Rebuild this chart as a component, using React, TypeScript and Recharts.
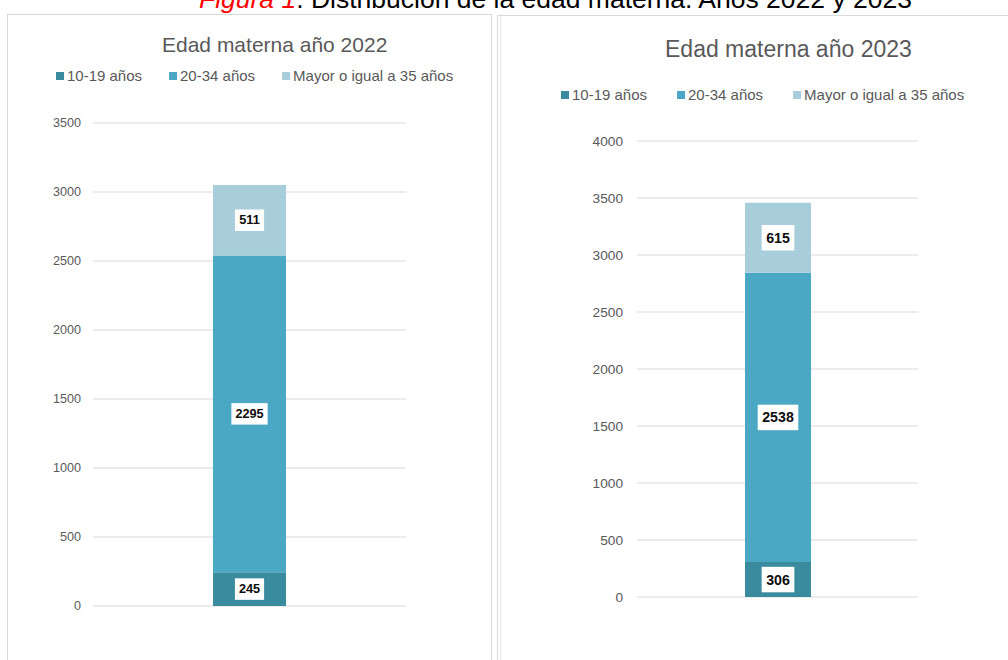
import React from 'react';
import { BarChart, Bar, XAxis, YAxis, CartesianGrid, LabelList } from 'recharts';

const seriesNames = ['10-19 años', '20-34 años', 'Mayor o igual a 35 años'];
const seriesKeys = ['a', 'b', 'c'];
const seriesColors = ['#3B8B9E', '#4BA8C4', '#A8CDDB'];
const values2022 = [245, 2295, 511];
const values2023 = [306, 2538, 615];
const ticks2022 = [0, 500, 1000, 1500, 2000, 2500, 3000, 3500];
const ticks2023 = [0, 500, 1000, 1500, 2000, 2500, 3000, 3500, 4000];
const title2022 = 'Edad materna año 2022';
const title2023 = 'Edad materna año 2023';
const captionRed = 'Figura 1';
const captionBlack = '. Distribución de la edad materna. Años 2022 y 2023';

const FONT = '"Liberation Sans", Arial, sans-serif';
const GRAY = '#595959';

function buildRow(year: string, vals: number[]) {
  const row: any = { name: year };
  seriesKeys.forEach((k, i) => { row[k] = vals[i]; });
  return row;
}

const data2022 = [buildRow('2022', values2022)];
const data2023 = [buildRow('2023', values2023)];

function makeLabel(fs: number, boxH: number, pad: number) {
  return (props: any) => {
    const vb = props.viewBox || {};
    const x = props.x ?? vb.x;
    const y = props.y ?? vb.y;
    const width = props.width ?? vb.width;
    const height = props.height ?? vb.height;
    const value = props.value;
    const cx = x + width / 2;
    const cy = y + height / 2;
    const tw = String(value).length * 0.556 * fs;
    const bw = tw + pad * 2;
    return (
      <g>
        <rect x={cx - bw / 2} y={cy - boxH / 2} width={bw} height={boxH} fill="#ffffff" />
        <text x={cx} y={cy} textAnchor="middle" dominantBaseline="central" fontFamily={FONT} fontWeight="bold" fontSize={fs} fill="#0d0d0d">
          {value}
        </text>
      </g>
    );
  };
}

function Legend({ x, y, fs, sq, gapText, gapItem, widthsEm }: any) {
  let cur = x;
  const items = seriesNames.map((n, i) => {
    const sx = cur;
    const tw = widthsEm[i] * fs;
    cur = sx + sq + gapText + tw + gapItem;
    return (
      <g key={n}>
        <rect x={sx} y={y - sq / 2} width={sq} height={sq} fill={seriesColors[i]} />
        <text x={sx + sq + gapText} y={y + fs * 0.358} fontFamily={FONT} fontSize={fs} fill={GRAY}>{n}</text>
      </g>
    );
  });
  return <g>{items}</g>;
}

const legendEm = [5.003, 5.003, 10.672];

export default function App() {
  return (
    <div style={{ position: 'absolute', left: 0, top: 0, width: 1008, height: 660, overflow: 'hidden', background: '#ffffff' }}>
      <div style={{ position: 'absolute', left: 7, top: 14, width: 485, height: 700, boxSizing: 'border-box', border: '1px solid #d9d9d9' }} />
      <div style={{ position: 'absolute', left: 497, top: 15, width: 600, height: 700, boxSizing: 'border-box', border: '1px solid #d9d9d9' }} />
      <div style={{ position: 'absolute', left: 500, top: 16, width: 1, height: 700, background: '#e6e6e6' }} />

      <div style={{ position: 'absolute', left: 0, top: 0 }}>
        <BarChart width={495} height={660} data={data2022} margin={{ top: 123, right: 89, bottom: 54, left: 33 }}>
          <CartesianGrid vertical={false} stroke="#d9d9d9" />
          <XAxis dataKey="name" hide />
          <YAxis width={60} domain={[0, 3500]} ticks={ticks2022} axisLine={false} tickLine={false} tickMargin={6}
            tick={{ fontSize: 12.6, fill: GRAY, fontFamily: FONT }} />
          {seriesKeys.map((k, i) => (
            <Bar key={k} dataKey={k} stackId="s" fill={seriesColors[i]} barSize={73} isAnimationActive={false}>
              <LabelList dataKey={k} content={makeLabel(12.7, 21.5, 4)} />
            </Bar>
          ))}
        </BarChart>
      </div>

      <div style={{ position: 'absolute', left: 495, top: 0 }}>
        <BarChart width={513} height={660} data={data2023} margin={{ top: 141, right: 90, bottom: 63, left: 82 }}>
          <CartesianGrid vertical={false} stroke="#d9d9d9" />
          <XAxis dataKey="name" hide />
          <YAxis width={60} domain={[0, 4000]} ticks={ticks2023} axisLine={false} tickLine={false} tickMargin={8}
            tick={{ fontSize: 13.7, fill: GRAY, fontFamily: FONT }} />
          {seriesKeys.map((k, i) => (
            <Bar key={k} dataKey={k} stackId="s" fill={seriesColors[i]} barSize={66} isAnimationActive={false}>
              <LabelList dataKey={k} content={makeLabel(14.2, 25.5, 4.5)} />
            </Bar>
          ))}
        </BarChart>
      </div>

      <svg width={1008} height={660} style={{ position: 'absolute', left: 0, top: 0, pointerEvents: 'none' }}>
        <text x={912} y={8} textAnchor="end" fontFamily={FONT} fontSize={26.5}>
          <tspan fill="#ff0000" fontStyle="italic">{captionRed}</tspan>
          <tspan fill="#000000">{captionBlack}</tspan>
        </text>
        <text x={162} y={51.7} fontFamily={FONT} fontSize={21} fill={GRAY}>{title2022}</text>
        <text x={665} y={56.7} fontFamily={FONT} fontSize={23} fill={GRAY}>{title2023}</text>
        <Legend x={56} y={76} fs={15} sq={8} gapText={3} gapItem={27} widthsEm={legendEm} />
        <Legend x={561} y={95} fs={15} sq={8} gapText={3} gapItem={30} widthsEm={legendEm} />
      </svg>
    </div>
  );
}
